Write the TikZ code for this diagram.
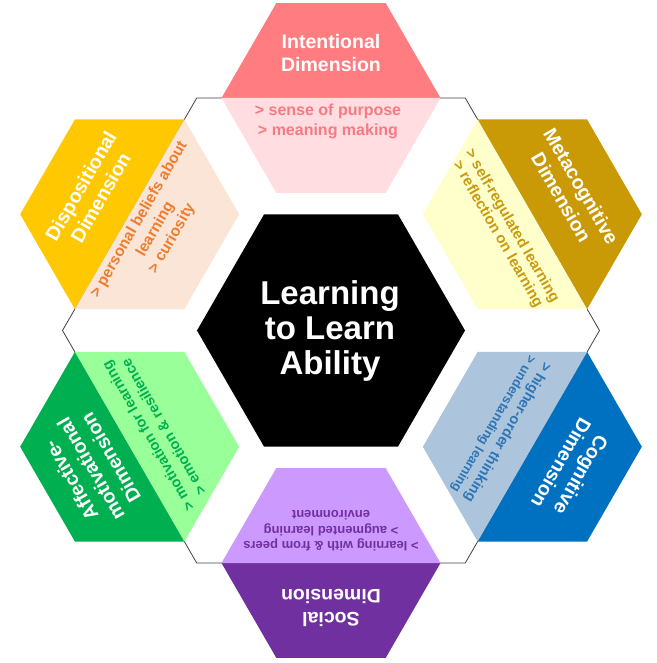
\documentclass[tikz,border=0pt]{standalone}
\usepackage{fontspec}
\setmainfont{Liberation Sans}
\definecolor{intD}{HTML}{FF7C80}
\definecolor{intL}{HTML}{FFDDE1}
\definecolor{intT}{HTML}{F57A84}
\definecolor{metD}{HTML}{C99A06}
\definecolor{metL}{HTML}{FFFFCC}
\definecolor{metT}{HTML}{C99A10}
\definecolor{cogD}{HTML}{0070C0}
\definecolor{cogL}{HTML}{ADC5DC}
\definecolor{cogT}{HTML}{2E75B6}
\definecolor{socD}{HTML}{7030A0}
\definecolor{socL}{HTML}{CC99FF}
\definecolor{socT}{HTML}{7030A0}
\definecolor{affD}{HTML}{00B050}
\definecolor{affL}{HTML}{99FF99}
\definecolor{affT}{HTML}{00B050}
\definecolor{disD}{HTML}{FFC800}
\definecolor{disL}{HTML}{FBE5D6}
\definecolor{disT}{HTML}{ED7D31}
\newcommand\drawpetal[9]{%
  \begin{scope}[shift={(#1:232.5)}, rotate=#1-90]
    \coordinate (#2) at (0,0);
    \fill[#3] (-109.5,0) -- (-54.75,94.8) -- (54.75,94.8) -- (109.5,0) -- cycle;
    \fill[#4] (109.5,0) -- (54.75,-94.8) -- (-54.75,-94.8) -- (-109.5,0) -- cycle;
    \node[ttl] (#2-title) at (0,45) {#6};
    \node[dsc, text=#5, #9] (#2-desc) at (0,#8) {#7};
  \end{scope}}
\begin{document}
\begin{tikzpicture}[x=1pt,y=1pt,
  ttl/.style={text=white, font=\bfseries\fontsize{19.5}{23}\selectfont, align=center, inner sep=0pt, transform shape},
  dsc/.style={align=center, inner sep=0pt, transform shape},
  outline/.style={draw=black!75, line width=0.8pt}]
\useasboundingbox (-331,-332.5) rectangle (325,330.5);
\draw[outline] (0:268.5) -- (60:268.5) -- (120:268.5) -- (180:268.5) -- (240:268.5) -- (300:268.5) -- cycle;
\drawpetal{90}{intent}{intD}{intL}{intT}{Intentional\\Dimension}{> sense of purpose\\> meaning making}{-23}{font=\bfseries\fontsize{16}{20}\selectfont, xshift=-3}
\drawpetal{30}{meta}{metD}{metL}{metT}{Metacognitive\\Dimension}{> self-regulated learning\\> reflection on learning}{-32}{font=\bfseries\fontsize{15}{16.5}\selectfont}
\drawpetal{-30}{cogn}{cogD}{cogL}{cogT}{Cognitive\\Dimension}{> higher-order thinking\\{\fontsize{13}{16}\selectfont > understanding learning}}{-37}{font=\bfseries\fontsize{14.5}{16}\selectfont}
\drawpetal{-90}{social}{socD}{socL}{socT}{Social\\Dimension}{> learning with \& from peers\\> augmented learning\\environment}{-32}{font=\bfseries\fontsize{13}{15.5}\selectfont}
\drawpetal{-150}{affect}{affD}{affL}{affT}{Affective-\\motivational\\Dimension}{> motivation for learning\\> emotion \& resilience}{-30}{font=\bfseries\fontsize{14.5}{18}\selectfont}
\drawpetal{150}{dispo}{disD}{disL}{disT}{Dispositional\\Dimension}{> personal beliefs about\\learning\\> curiosity}{-30}{font=\bfseries\fontsize{15.5}{19}\selectfont}
\fill[black] (0:134) -- (60:134) -- (120:134) -- (180:134) -- (240:134) -- (300:134) -- cycle;
\node[text=white, font=\bfseries\fontsize{33}{35}\selectfont, align=center, inner sep=0pt] (core) at (-1,0) {Learning\\to Learn\\Ability};
\end{tikzpicture}
\end{document}
